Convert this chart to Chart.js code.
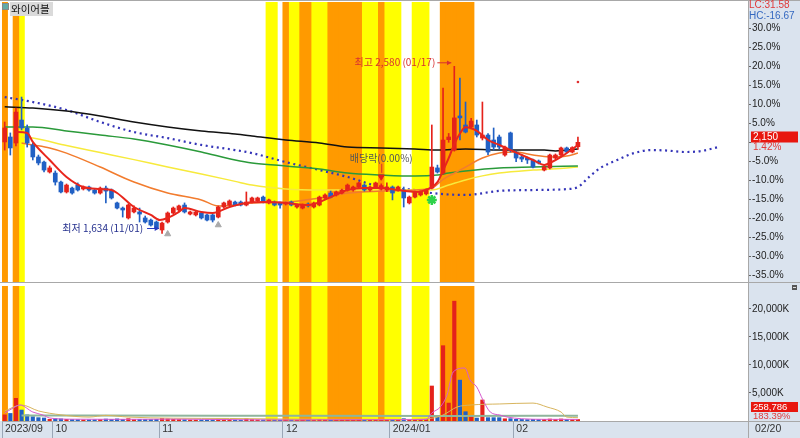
<!DOCTYPE html>
<html>
<head>
<meta charset="utf-8">
<script src="https://cdn.jsdelivr.net/npm/chart.js@4"></script>
<style>
html, body { margin: 0; padding: 0; background: #fff; }
#wrap { position: relative; width: 800px; height: 438px; overflow: hidden; background: #fff; }
#price { position: absolute; left: 0; top: 0; }
#vol { position: absolute; left: 0; top: 283px; }
</style>
</head>
<body>
<div id="wrap">
  <canvas id="price" width="800" height="283"></canvas>
  <canvas id="vol" width="800" height="155"></canvas>
</div>
<script>
const stockName = '와이어블';
const lastClose = 2150;

// trading days from 2023/09/15 to 2024/02/20 (index 0..102)
const monthStarts = [0, 9, 28, 50, 69, 91];
const monthLabels = ['2023/09', '10', '11', '12', '2024/01', '02'];

const opens = [2152, 2180, 2146, 2276, 2231, 2135, 2067, 2038, 1982, 1976,
  1925, 1869, 1891, 1908, 1886, 1897, 1880, 1863, 1891, 1880,
  1807, 1778, 1722, 1756, 1756, 1722, 1710, 1699, 1654, 1699,
  1750, 1767, 1795, 1744, 1739, 1750, 1739, 1739, 1727, 1784,
  1795, 1812, 1812, 1795, 1812, 1818, 1840, 1807, 1812, 1807,
  1801, 1812, 1784, 1778, 1801, 1784, 1795, 1835, 1863, 1852,
  1863, 1880, 1880, 1897, 1908, 1880, 1897, 1885, 1880, 1897,
  1880, 1880, 1807, 1840, 1852, 1858, 1891, 2005, 1976, 2165,
  2106, 2299, 2248, 2237, 2248, 2174, 2191, 2163, 2180, 2078,
  2203, 2095, 2067, 2061, 2050, 2044, 1993, 2005, 2061, 2078,
  2118, 2095, 2125];
const highs = [2265, 2203, 2344, 2406, 2248, 2146, 2078, 2044, 2016, 1988,
  1931, 1914, 1897, 1920, 1903, 1903, 1886, 1897, 1903, 1886,
  1812, 1784, 1801, 1790, 1778, 1733, 1716, 1705, 1699, 1756,
  1784, 1795, 1807, 1761, 1761, 1756, 1744, 1744, 1790, 1812,
  1824, 1818, 1818, 1869, 1840, 1840, 1846, 1829, 1818, 1812,
  1812, 1818, 1801, 1801, 1807, 1812, 1846, 1858, 1874, 1874,
  1886, 1914, 1903, 1925, 1914, 1903, 1925, 1915, 1920, 1903,
  1903, 1897, 1846, 1874, 1874, 1886, 2248, 2021, 2457, 2200,
  2580, 2513, 2378, 2285, 2276, 2378, 2200, 2231, 2191, 2129,
  2208, 2101, 2080, 2067, 2055, 2050, 2016, 2084, 2084, 2123,
  2123, 2125, 2180];
const lows = [2106, 2078, 2129, 2220, 2123, 2050, 2022, 1982, 1976, 1908,
  1863, 1863, 1857, 1874, 1880, 1874, 1857, 1857, 1807, 1829,
  1773, 1727, 1716, 1750, 1699, 1693, 1676, 1659, 1634, 1693,
  1744, 1761, 1750, 1739, 1733, 1716, 1705, 1699, 1722, 1778,
  1790, 1790, 1790, 1790, 1807, 1812, 1807, 1801, 1790, 1778,
  1795, 1790, 1778, 1773, 1784, 1778, 1790, 1829, 1835, 1846,
  1858, 1874, 1874, 1891, 1874, 1874, 1891, 1880, 1870, 1824,
  1874, 1784, 1801, 1835, 1846, 1852, 1886, 1976, 1970, 2150,
  2100, 2163, 2203, 2225, 2180, 2163, 2080, 2106, 2112, 2072,
  2095, 2040, 2040, 2030, 2005, 2027, 1988, 2000, 2055, 2072,
  2090, 2090, 2110];
const closes = [2231, 2118, 2321, 2231, 2146, 2067, 2033, 1993, 2005, 1925,
  1869, 1908, 1863, 1880, 1897, 1880, 1863, 1891, 1874, 1835,
  1778, 1767, 1795, 1778, 1744, 1699, 1682, 1665, 1693, 1750,
  1778, 1790, 1756, 1756, 1756, 1722, 1710, 1710, 1784, 1807,
  1818, 1795, 1795, 1812, 1835, 1835, 1812, 1824, 1795, 1795,
  1810, 1795, 1795, 1795, 1790, 1807, 1840, 1852, 1840, 1869,
  1880, 1908, 1897, 1920, 1880, 1897, 1920, 1905, 1897, 1863,
  1897, 1835, 1840, 1869, 1869, 1880, 2010, 1982, 2163, 2180,
  2288, 2288, 2208, 2270, 2191, 2191, 2095, 2123, 2123, 2123,
  2106, 2061, 2055, 2050, 2010, 2033, 2010, 2078, 2078, 2118,
  2095, 2120, 2150];
// volume in thousands of shares
const volumes = [1100, 1350, 4050, 1960, 1100, 770, 600, 540, 300, 420,
  380, 300, 260, 240, 200, 210, 230, 260, 350, 300,
  380, 300, 420, 260, 300, 280, 260, 300, 450, 380,
  300, 260, 240, 180, 170, 200, 190, 220, 350, 300,
  260, 180, 160, 400, 250, 200, 180, 170, 160, 180,
  150, 160, 140, 170, 150, 160, 280, 220, 200, 210,
  230, 300, 200, 260, 220, 180, 250, 200, 240, 280,
  180, 420, 260, 300, 220, 250, 6250, 800, 13450, 3200,
  21400, 7300, 1660, 900, 530, 3750, 600, 600, 600, 400,
  420, 300, 280, 250, 300, 260, 280, 350, 300, 360,
  280, 240, 259];

// moving averages: [day index, price]
const ma5 = [[2, 2208], [4, 2203], [5, 2152], [8, 2050], [11, 1954], [14, 1897], [17, 1886], [19, 1880],
  [20, 1863], [23, 1784], [26, 1739], [27.6, 1710], [29, 1722], [31, 1756], [32, 1778], [35, 1756],
  [37, 1750], [40, 1784], [43, 1807], [46, 1812], [50, 1807], [54, 1795], [58, 1840], [61, 1880],
  [64, 1891], [67, 1891], [70, 1880], [73, 1869], [76, 1897], [77, 1925], [78, 1990], [79, 2060],
  [80, 2140], [81, 2200], [82, 2235], [84, 2215], [86, 2163], [88, 2135], [90, 2106], [92, 2078],
  [94, 2050], [96, 2022], [97, 2033], [99, 2067], [102, 2135]];
const ma20 = [[3, 2146], [5, 2135], [8, 2118], [11, 2089], [17, 2010], [23, 1925], [29, 1863], [35, 1824],
  [38, 1790], [41, 1795], [44, 1807], [50, 1812], [56, 1835], [61, 1863], [67, 1874], [73, 1880],
  [76, 1891], [78, 1940], [80, 1975], [82, 2010], [85, 2061], [88, 2089], [91, 2095], [94, 2078],
  [97, 2067], [100, 2072], [102, 2089]];
const ma60 = [[3, 2180], [5, 2174], [11, 2132], [17, 2092], [23, 2052], [29, 2010], [35, 1971], [41, 1929],
  [44, 1908], [50, 1886], [56, 1880], [61, 1880], [67, 1880], [73, 1880], [76, 1880], [79, 1908],
  [82, 1937], [85, 1960], [88, 1976], [94, 1993], [100, 2005], [102, 2010]];
const ma120 = [[0, 2237], [5, 2237], [11, 2214], [17, 2191], [23, 2169], [29, 2135], [35, 2095], [41, 2050],
  [44, 2033], [50, 2016], [56, 1999], [61, 1976], [67, 1965], [73, 1959], [77, 1965], [79, 1976],
  [82, 1988], [88, 2005], [94, 2010], [102, 2016]];
const ma240 = [[0, 2351], [5, 2344], [11, 2327], [17, 2299], [23, 2265], [29, 2237], [35, 2214], [41, 2197],
  [44, 2186], [50, 2163], [56, 2146], [61, 2123], [67, 2118], [73, 2112], [77, 2106], [82, 2112],
  [88, 2106], [96, 2106], [98, 2101], [102, 2112]];
const leadSpan = [[0, 2406], [5, 2378], [11, 2333], [17, 2265], [23, 2208], [29, 2174], [35, 2135], [41, 2106],
  [44, 2089], [50, 2038], [56, 1993], [61, 1954], [67, 1897], [73, 1880], [76, 1863], [82, 1852],
  [88, 1875], [94, 1880], [100, 1885], [102, 1897], [104, 1954], [106, 2005], [109, 2050], [112, 2089],
  [115, 2106], [118, 2103], [121, 2095], [124, 2101], [127, 2123]];

// volume averages [day index, thousands]
const volMa5 = [[0, 1430], [1.5, 2320], [2.7, 2860], [5, 1600], [6.8, 1070], [8, 540], [12, 320], [20, 300],
  [30, 330], [40, 250], [50, 180], [60, 220], [70, 230], [75, 260], [76, 1430], [77.5, 2500],
  [78.7, 4640], [79.8, 8750], [81.9, 9460], [82.8, 7320], [84, 6070], [85.1, 3750], [86.4, 1600],
  [88.1, 1070], [89.4, 710], [92, 400], [96, 300], [102, 290]];
const volMa20 = [[0, 1800], [3, 2860], [6, 1800], [10, 1100], [15, 700], [18, 1000], [22, 700], [30, 500],
  [40, 450], [50, 350], [60, 300], [70, 280], [76, 500], [78, 1070], [80.5, 2500], [83, 2860],
  [88, 3040], [94, 3200], [96.5, 2500], [99, 1600], [100, 700], [102, 600]];
const volMa60 = [[3, 1000], [40, 950], [80, 900], [102, 950]];

// highlighted days
const orangeDays = [0, 2, 50, 53, 54, 58, 59, 60, 61, 62, 63, 67, 78, 79, 80, 81, 82, 83];
const yellowDays = [3, 47, 48, 51, 52, 55, 56, 57, 64, 65, 66, 68, 69, 70, 73, 74, 75];

// signal markers
const grayUpMarks = [[29, 1631], [38, 1682]];
const starMarks = [[76, 1824]];
const redDotMarks = [[102, 2491]];
const exDivDay = 67;
const highDay = 80;
const lowDay = 28;

const pctSteps = [-35, -30, -25, -20, -15, -10, -5, 0, 5, 10, 15, 20, 25, 30];
const volTicks = [5000, 10000, 15000, 20000];

const xMin = -0.4804, xMax = 132.26;
const yMin = 1359.6, yMax = 2943.8;
const volMax = 24107;

const RED = '#e5221b', BLUE = '#2160c4';
const candleColors = closes.map((c, i) => c >= opens[i] ? RED : BLUE);
const numFont = { family: '"Liberation Sans", Arial, sans-serif', size: 10 };

function pts(arr) { return arr.map(p => ({ x: p[0], y: p[1] })); }
function bands(days, lo, hi) { return days.map(d => ({ x: d, y: [lo, hi] })); }
function lineDs(arr, color, width, order, extra) {
  return Object.assign({
    type: 'line', data: pts(arr), borderColor: color, borderWidth: width,
    pointRadius: 0, cubicInterpolationMode: 'monotone', order: order
  }, extra || {});
}
// keep the plot area exactly where the panel edges are
function noPad(s) {
  s.paddingTop = 0; s.paddingBottom = 0; s.paddingLeft = 0; s.paddingRight = 0;
}

const bgPlugin = {
  id: 'bg',
  beforeDraw(chart, args, opts) {
    const ctx = chart.ctx;
    ctx.save();
    ctx.fillStyle = '#fff';
    ctx.fillRect(0, 0, chart.width, chart.height);
    ctx.fillStyle = '#dae3ee';
    ctx.fillRect(748, 0, 52, chart.height);
    if (opts.bottom) ctx.fillRect(0, chart.height - 17, 800, 17);
    ctx.restore();
  }
};

function arrow(ctx, x1, y1, x2, y2, color) {
  ctx.strokeStyle = color;
  ctx.fillStyle = color;
  ctx.lineWidth = 1;
  ctx.beginPath();
  ctx.moveTo(x1, y1);
  ctx.lineTo(x2, y2);
  ctx.stroke();
  const a = Math.atan2(y2 - y1, x2 - x1);
  ctx.beginPath();
  ctx.moveTo(x2, y2);
  ctx.lineTo(x2 - 5 * Math.cos(a - 0.5), y2 - 5 * Math.sin(a - 0.5));
  ctx.lineTo(x2 - 5 * Math.cos(a + 0.5), y2 - 5 * Math.sin(a + 0.5));
  ctx.closePath();
  ctx.fill();
}

const priceText = {
  id: 'priceText',
  afterDraw(chart) {
    const { ctx, scales: { x, y } } = chart;
    ctx.save();
    ctx.strokeStyle = '#a8a8a8';
    ctx.lineWidth = 1;
    ctx.beginPath();
    ctx.moveTo(0, 0.5); ctx.lineTo(800, 0.5);
    ctx.moveTo(0, 282.5); ctx.lineTo(800, 282.5);
    ctx.moveTo(748.5, 0); ctx.lineTo(748.5, 283);
    ctx.stroke();

    // title
    ctx.fillStyle = '#62aaa8';
    ctx.fillRect(3, 4, 5, 5);
    ctx.strokeStyle = '#888';
    ctx.strokeRect(2.5, 3.5, 6, 6);
    ctx.fillStyle = '#dadada';
    ctx.fillRect(10, 2, 43, 14);
    ctx.fillStyle = '#111';
    ctx.font = '10.5px "Noto Sans CJK KR", sans-serif';
    ctx.textBaseline = 'middle';
    ctx.textAlign = 'left';
    ctx.fillText(stockName, 11, 9);

    // right side info
    ctx.font = '10px "Liberation Sans", Arial, sans-serif';
    ctx.fillStyle = '#e03a3a';
    ctx.fillText('LC:31.58', 749, 5.5);
    ctx.fillStyle = '#3468c0';
    ctx.fillText('HC:-16.67', 749, 16);
    ctx.fillStyle = '#e8170f';
    ctx.fillRect(751, 131.5, 47, 11);
    ctx.fillStyle = '#fff';
    ctx.fillText('2,150', 753, 137.5);
    ctx.fillStyle = '#e03a3a';
    ctx.fillText('1.42%', 753, 147);

    // high / low annotations
    ctx.font = '10px "Noto Sans CJK KR", sans-serif';
    const hx = x.getPixelForValue(highDay), hy = y.getPixelForValue(highs[highDay]);
    ctx.fillStyle = '#d83030';
    ctx.textAlign = 'right';
    ctx.fillText('최고 2,580 (01/17)', hx - 19, hy - 4);
    arrow(ctx, hx - 17, hy - 3.5, hx - 3, hy - 3.5, '#d83030');

    const lx = x.getPixelForValue(lowDay), ly = y.getPixelForValue(lows[lowDay]);
    ctx.fillStyle = '#25308e';
    ctx.fillText('최저 1,634 (11/01)', lx - 19, ly - 5);
    arrow(ctx, lx - 15, ly - 5, lx - 3, ly - 5, '#2a3ac0');

    // ex-dividend label
    const ex = x.getPixelForValue(exDivDay);
    const ey = y.getPixelForValue(highs[exDivDay]);
    ctx.textAlign = 'center';
    ctx.fillStyle = '#555';
    ctx.fillText('배당락(0.00%)', ex, ey - 26);
    ctx.strokeStyle = '#d83030';
    ctx.beginPath();
    ctx.moveTo(ex + 0.5, ey - 20);
    ctx.lineTo(ex + 0.5, ey - 11);
    ctx.stroke();
    ctx.restore();
  }
};

const volText = {
  id: 'volText',
  afterDraw(chart) {
    const ctx = chart.ctx;
    ctx.save();
    ctx.strokeStyle = '#a8a8a8';
    ctx.lineWidth = 1;
    ctx.beginPath();
    ctx.moveTo(748.5, 0); ctx.lineTo(748.5, 155);
    ctx.moveTo(748, 138.5); ctx.lineTo(800, 138.5);
    ctx.stroke();
    // small panel button
    ctx.fillStyle = '#555';
    ctx.fillRect(792, 2, 5, 5);
    ctx.fillStyle = '#ddd';
    ctx.fillRect(793, 4, 3, 1);
    ctx.font = '9.5px "Liberation Sans", Arial, sans-serif';
    ctx.textBaseline = 'middle';
    ctx.fillStyle = '#e8170f';
    ctx.fillRect(751, 119, 47, 10);
    ctx.fillStyle = '#fff';
    ctx.fillText('258,786', 753, 124.5);
    ctx.fillStyle = '#e03a3a';
    ctx.fillText('183.39%', 753, 133.5);
    ctx.fillStyle = '#333';
    ctx.font = '10.5px "Liberation Sans", Arial, sans-serif';
    ctx.fillText('02/20', 755, 146.5);
    ctx.restore();
  }
};

Chart.defaults.font.family = numFont.family;

new Chart(document.getElementById('price'), {
  type: 'bar',
  data: {
    datasets: [
      { data: bands(orangeDays, yMin, yMax), backgroundColor: '#ff9a00', barThickness: 5.8, grouped: false, order: 20 },
      { data: bands(yellowDays, yMin, yMax), backgroundColor: '#ffff00', barThickness: 5.8, grouped: false, order: 20 },
      lineDs(leadSpan, '#3434b8', 2.2, 9, { borderDash: [2, 3.6] }),
      lineDs(ma240, '#111111', 1.5, 8),
      lineDs(ma120, '#2a9a3a', 1.5, 8),
      lineDs(ma60, '#f7ea3c', 1.5, 8),
      lineDs(ma20, '#f27c2e', 1.5, 7),
      { data: opens.map((o, i) => ({ x: i, y: [lows[i], highs[i]] })), backgroundColor: candleColors, barThickness: 1, grouped: false, order: 5 },
      { data: opens.map((o, i) => ({ x: i, y: [o, closes[i]] })), backgroundColor: candleColors, barThickness: 4, grouped: false, order: 4 },
      lineDs(ma5, '#e8261c', 2, 3),
      { type: 'scatter', data: pts(grayUpMarks), pointStyle: 'triangle', pointRadius: 3.5, backgroundColor: '#aaaaaa', borderColor: '#aaaaaa', order: 1 },
      { type: 'scatter', data: pts(starMarks), pointStyle: 'star', pointRadius: 5, borderWidth: 2.5, borderColor: '#2fd24a', backgroundColor: '#2fd24a', order: 1 },
      { type: 'scatter', data: pts(redDotMarks), pointStyle: 'circle', pointRadius: 1.3, borderWidth: 0, backgroundColor: '#e03030', order: 1 },
      { type: 'scatter', data: [{ x: exDivDay, y: highs[exDivDay] + 40 }], pointStyle: 'triangle', rotation: 180, pointRadius: 3.5, backgroundColor: '#e02020', borderColor: '#e02020', order: 1 }
    ]
  },
  options: {
    responsive: false,
    animation: false,
    devicePixelRatio: 1,
    layout: { autoPadding: false, padding: { left: 2, top: 2, right: 0, bottom: 1 } },
    plugins: { legend: { display: false }, tooltip: { enabled: false }, bg: {} },
    scales: {
      x: { type: 'linear', min: xMin, max: xMax, offset: false, grid: { offset: false }, display: false },
      y: {
        position: 'right', min: yMin, max: yMax,
        afterFit: s => { s.width = 52; noPad(s); },
        afterBuildTicks: s => { s.ticks = pctSteps.map(k => ({ value: lastClose * (1 + k / 100) })); },
        ticks: {
          font: numFont, color: '#222', padding: 1,
          callback: v => {
            const p = Math.round((v / lastClose - 1) * 1000) / 10;
            return p === 0 ? '' : p.toFixed(1) + '%';
          }
        },
        grid: { drawOnChartArea: false, tickLength: 3, color: '#666' },
        border: { color: '#a8a8a8' }
      }
    }
  },
  plugins: [bgPlugin, priceText]
});

new Chart(document.getElementById('vol'), {
  type: 'bar',
  data: {
    datasets: [
      { data: bands(orangeDays, 0, volMax), backgroundColor: '#ff9a00', barThickness: 5.8, grouped: false, order: 20 },
      { data: bands(yellowDays, 0, volMax), backgroundColor: '#ffff00', barThickness: 5.8, grouped: false, order: 20 },
      { data: volumes.map((v, i) => ({ x: i, y: v })), backgroundColor: candleColors, barThickness: 3.5, grouped: false, order: 5 },
      lineDs(volMa60, '#8fb59c', 2, 4),
      lineDs(volMa20, '#d8b55e', 1, 3),
      lineDs(volMa5, '#d85ad0', 1, 2)
    ]
  },
  options: {
    responsive: false,
    animation: false,
    devicePixelRatio: 1,
    layout: { autoPadding: false, padding: { left: 2, top: 3, right: 0, bottom: 0 } },
    plugins: { legend: { display: false }, tooltip: { enabled: false }, bg: { bottom: true } },
    scales: {
      x: {
        type: 'linear', min: xMin, max: xMax, position: 'bottom', offset: false,
        afterFit: s => { s.height = 17; noPad(s); },
        afterBuildTicks: s => { s.ticks = monthStarts.map(i => ({ value: Math.max(xMin, i - 0.5) })); },
        ticks: {
          autoSkip: false, maxRotation: 0, align: 'start', labelOffset: 3, padding: -15,
          font: { size: 10.5 }, color: '#333',
          callback: (v, i) => monthLabels[i]
        },
        grid: { drawOnChartArea: false, offset: false, tickLength: 17, color: '#9aa6b6' },
        border: { color: '#a8a8a8' }
      },
      y: {
        position: 'right', min: 0, max: volMax,
        afterFit: s => { s.width = 52; noPad(s); },
        afterBuildTicks: s => { s.ticks = volTicks.map(v => ({ value: v })); },
        ticks: {
          font: numFont, color: '#222', padding: 1,
          callback: v => v.toLocaleString('en-US') + 'K'
        },
        grid: { drawOnChartArea: false, tickLength: 3, color: '#666' },
        border: { color: '#a8a8a8' }
      }
    }
  },
  plugins: [bgPlugin, volText]
});
</script>
</body>
</html>
